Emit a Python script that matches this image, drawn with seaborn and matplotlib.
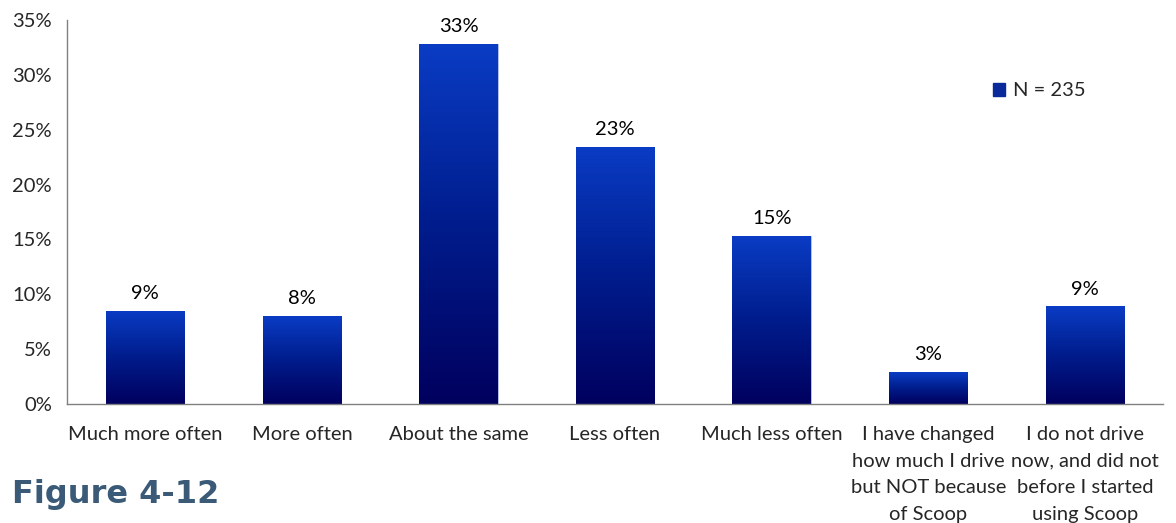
import numpy as np
import pandas as pd
import matplotlib
matplotlib.use("Agg")
import matplotlib.pyplot as plt
import seaborn as sns
from matplotlib.colors import LinearSegmentedColormap

categories = ["Much more often", "More often", "About the same", "Less often",
              "Much less often",
              "I have changed\nhow much I drive\nbut NOT because\nof Scoop",
              "I do not drive\nnow, and did not\nbefore I started\nusing Scoop"]
values = [8.5, 8.0, 32.8, 23.4, 15.3, 2.9, 8.9]
labels = ["9%", "8%", "33%", "23%", "15%", "3%", "9%"]
yticks = [0, 5, 10, 15, 20, 25, 30, 35]
legend_label = "N = 235"

sns.set_theme(style="white")
plt.rcParams['font.family'] = ['Lato', 'DejaVu Sans']

fig = plt.figure(figsize=(11.76, 5.23), dpi=100)
ax = fig.add_axes([0.057, 0.2275, 0.932, 0.7343])

df = pd.DataFrame({"cat": categories, "val": values})
sns.barplot(data=df, x="cat", y="val", ax=ax, color="#0a34b8", width=0.5,
            saturation=1, label=legend_label)

cmap = LinearSegmentedColormap.from_list("g", ["#00005e", "#001c8c", "#0a3cc4"])
grad = np.linspace(0, 1, 256).reshape(-1, 1)
for p in ax.patches:
    x0, y0 = p.get_x(), p.get_y()
    w, h = p.get_width(), p.get_height()
    im = ax.imshow(grad, cmap=cmap, origin="lower", aspect="auto",
                   extent=[x0, x0 + w, y0, y0 + h], zorder=2)
    im.set_clip_path(p)
    p.set_edgecolor("#c8d0e8")
    p.set_linewidth(0.5)

for i, (v, t) in enumerate(zip(values, labels)):
    ax.text(i, v + 0.8, t, ha="center", va="bottom", fontsize=14.5, color="black")

ax.set_xlim(-0.5, 6.5)
ax.set_ylim(0, 35)
ax.set_yticks(yticks)
ax.set_yticklabels([f"{t}%" for t in yticks], fontsize=14.5)
ax.set_xticks(range(len(categories)))
ax.set_xticklabels(categories, fontsize=14.5, linespacing=1.68)
ax.set_xticks(np.arange(-0.5, 7, 1), minor=True)
ax.tick_params(axis="x", which="major", length=0, pad=16)
ax.tick_params(axis="x", which="minor", length=5, width=1, color="#808080", direction="out")
ax.tick_params(axis="y", length=5, width=1, color="#808080", direction="out", pad=6)
ax.set_xlabel("")
ax.set_ylabel("")
for s in ["top", "right"]:
    ax.spines[s].set_visible(False)
for s in ["left", "bottom"]:
    ax.spines[s].set_color("#808080")
    ax.spines[s].set_linewidth(1)

ax.legend(handles=[plt.Rectangle((0, 0), 1, 1, color="#0a2a9c")], labels=[legend_label],
          loc="upper left", bbox_to_anchor=(0.828, 0.885), frameon=False, fontsize=14.5,
          handlelength=0.6, handleheight=0.6, handletextpad=0.4)

fig.text(0.01, 0.055, "Figure 4-12", fontsize=23, fontweight="bold",
         color="#3a5a78", family="DejaVu Sans", va="center")

fig.savefig("out.png", dpi=100)
